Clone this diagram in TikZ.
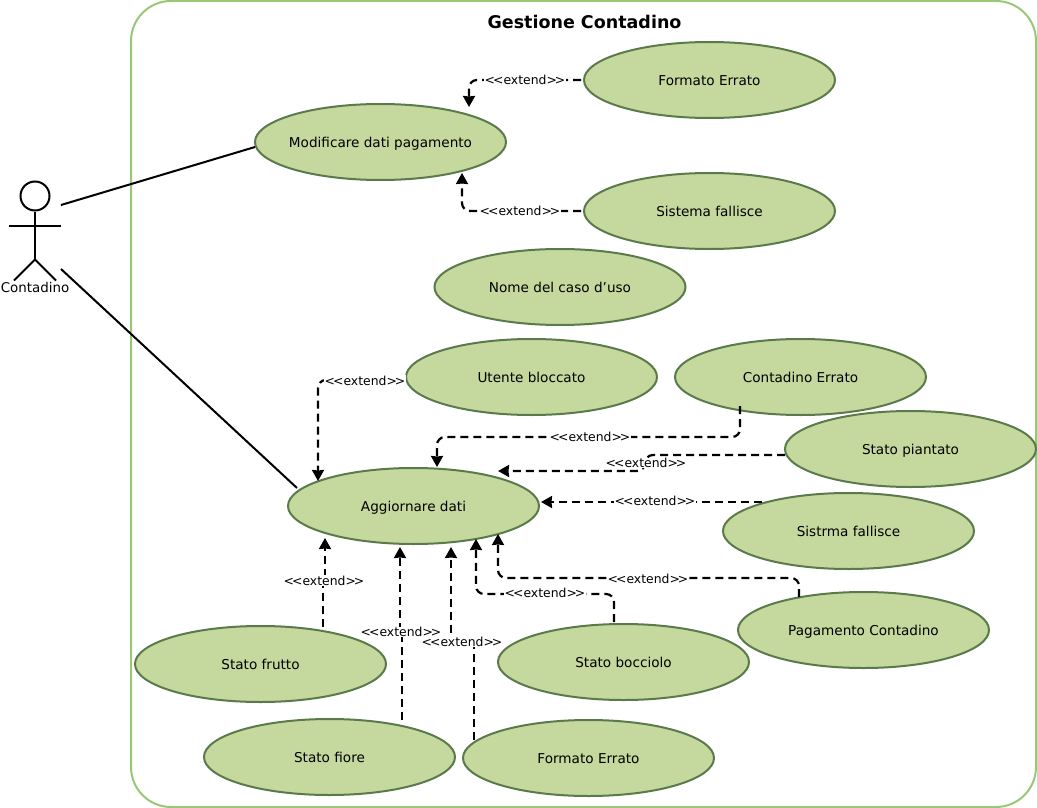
\documentclass[tikz,border=0pt]{standalone}
\usepackage{fontspec}
\setmainfont{DejaVu Sans}
\usetikzlibrary{shapes.geometric, positioning, arrows.meta, calc}
\definecolor{casofill}{HTML}{C5D89D}
\definecolor{casodraw}{HTML}{5B7A4B}
\definecolor{sistemadraw}{HTML}{97C777}
\tikzset{
  usecase/.style={ellipse, minimum width=251pt, minimum height=76pt, inner xsep=-15pt, inner ysep=0pt, draw=casodraw, fill=casofill, line width=2pt, font=\fontsize{13.6}{15}\selectfont, text height=13pt, text depth=3pt},
  sysbox/.style={rectangle, rounded corners=40pt, minimum width=905pt, minimum height=806pt, draw=sistemadraw, line width=2pt},
  assoc/.style={line width=2pt},
  extendarrow/.style={line width=2.2pt, dash pattern=on 8pt off 5pt, rounded corners=8pt, -{Stealth[length=11pt, width=12pt, inset=0.5pt]}},
  extendlabel/.style={fill=white, inner xsep=1pt, inner ysep=0.5pt, font=\fontsize{12.4}{14}\selectfont}
}
\newcommand{\extendtxt}{<\kern-2pt<extend>\kern-2pt>}
\begin{document}
\begin{tikzpicture}[x=1pt, y=-1pt]
    \useasboundingbox (0,0) rectangle (1037,808);

    % Sistema
    \node[sysbox] (sistema) at (583.5,404) {};
    \node[font=\fontsize{17.5}{20}\selectfont\bfseries] (titolo) at (584.5,22) {Gestione Contadino};

    % Casi d'uso
    \node[usecase] (formatoA) at (709.5,80) {Formato Errato};
    \node[usecase] (modifica) at (380.5,142) {Modificare dati pagamento};
    \node[usecase] (sistemaF) at (709.5,211) {Sistema fallisce};
    \node[usecase] (nome) at (560,287) {Nome del caso d'uso};
    \node[usecase] (utente) at (531.5,377) {Utente bloccato};
    \node[usecase] (contErr) at (800.5,377) {Contadino Errato};
    \node[usecase] (piantato) at (910.5,449) {Stato piantato};
    \node[usecase] (aggiorna) at (413.5,506) {Aggiornare dati};
    \node[usecase] (sistrma) at (848.5,531) {Sistrma fallisce};
    \node[usecase] (pagamento) at (863.5,630) {Pagamento Contadino};
    \node[usecase] (bocciolo) at (623.5,662) {Stato bocciolo};
    \node[usecase] (frutto) at (260.5,664) {Stato frutto};
    \node[usecase] (fiore) at (329.5,757) {Stato fiore};
    \node[usecase] (formatoB) at (588.5,758) {Formato Errato};

    % Attore
    \node[circle, draw, assoc, minimum size=29pt, inner sep=0pt] (testa) at (35,196) {};
    \draw[assoc] (testa.south) -- ++(0,48) coordinate (bacino);
    \draw[assoc] ($(testa)+(-26,30)$) -- ($(testa)+(26,30)$);
    \draw[assoc] ($(bacino)+(-21,21)$) -- (bacino) -- ($(bacino)+(21,21)$);
    \node[font=\fontsize{13.4}{15}\selectfont] (attore) at (35,288) {Contadino};

    % Associazioni
    \draw[assoc] ($(testa)+(26,9)$) -- ($(modifica)+(-125.5,5)$);
    \draw[assoc] ($(testa)+(26,73)$) -- ($(aggiorna)+(-116.5,-18)$);

    % Extend verso Modificare dati pagamento
    \draw[extendarrow] ($(formatoA)+(-128.5,0)$) -| ($(modifica)+(88.5,-35)$);
    \draw[extendarrow] ($(sistemaF)+(-128.5,0)$) -| ($(modifica)+(81.5,31)$);

    % Extend verso Aggiornare dati
    \draw[extendarrow] ($(utente)+(-126.5,3)$) -| ($(aggiorna)+(-95.5,-25)$);
    \draw[extendarrow] ($(contErr)+(-60.5,29)$) -- ++(0,31) -| ($(aggiorna)+(23.5,-39)$);
    \draw[extendarrow] ($(piantato)+(-125.5,6)$) -- ++(-140,0) -- ++(0,16) -- ($(aggiorna)+(84.5,-35)$);
    \draw[extendarrow] ($(sistrma)+(-86.5,-29)$) -- ($(aggiorna)+(127.5,-4)$);
    \draw[extendarrow] ($(pagamento)+(-64.5,-33)$) -- ++(0,-19) -| ($(aggiorna)+(84.5,28)$);
    \draw[extendarrow] ($(bocciolo)+(-9.5,-40)$) -- ++(0,-28) -| ($(aggiorna)+(62.5,33)$);
    \draw[extendarrow, rounded corners=0pt] ($(formatoB)+(-114.5,-18)$) -- ++(0,-98) -- ++(-23,0) -- ($(aggiorna)+(37.5,41)$);
    \draw[extendarrow, rounded corners=0pt] ($(fiore)+(72.5,-37)$) -- ++(0,-88) -- ++(-2,0) -- ($(aggiorna)+(-13.5,41)$);
    \draw[extendarrow, rounded corners=0pt] ($(frutto)+(62.5,-37)$) -- ++(0,-46) -- ++(2,0) -- ($(aggiorna)+(-88.5,32)$);

    % Etichette
    \node[extendlabel] (lblFormatoA) at (525,79.5) {\extendtxt};
    \node[extendlabel] (lblSistemaF) at (520,210.5) {\extendtxt};
    \node[extendlabel] (lblUtente) at (365,380.5) {\extendtxt};
    \node[extendlabel] (lblContErr) at (590,437) {\extendtxt};
    \node[extendlabel] (lblPiantato) at (646,463) {\extendtxt};
    \node[extendlabel] (lblSistrma) at (655,501) {\extendtxt};
    \node[extendlabel] (lblPagamento) at (648,578.5) {\extendtxt};
    \node[extendlabel] (lblBocciolo) at (545,593) {\extendtxt};
    \node[extendlabel] (lblFormatoB) at (462,642) {\extendtxt};
    \node[extendlabel] (lblFiore) at (401,632) {\extendtxt};
    \node[extendlabel] (lblFrutto) at (324,580.5) {\extendtxt};
\end{tikzpicture}
\end{document}
